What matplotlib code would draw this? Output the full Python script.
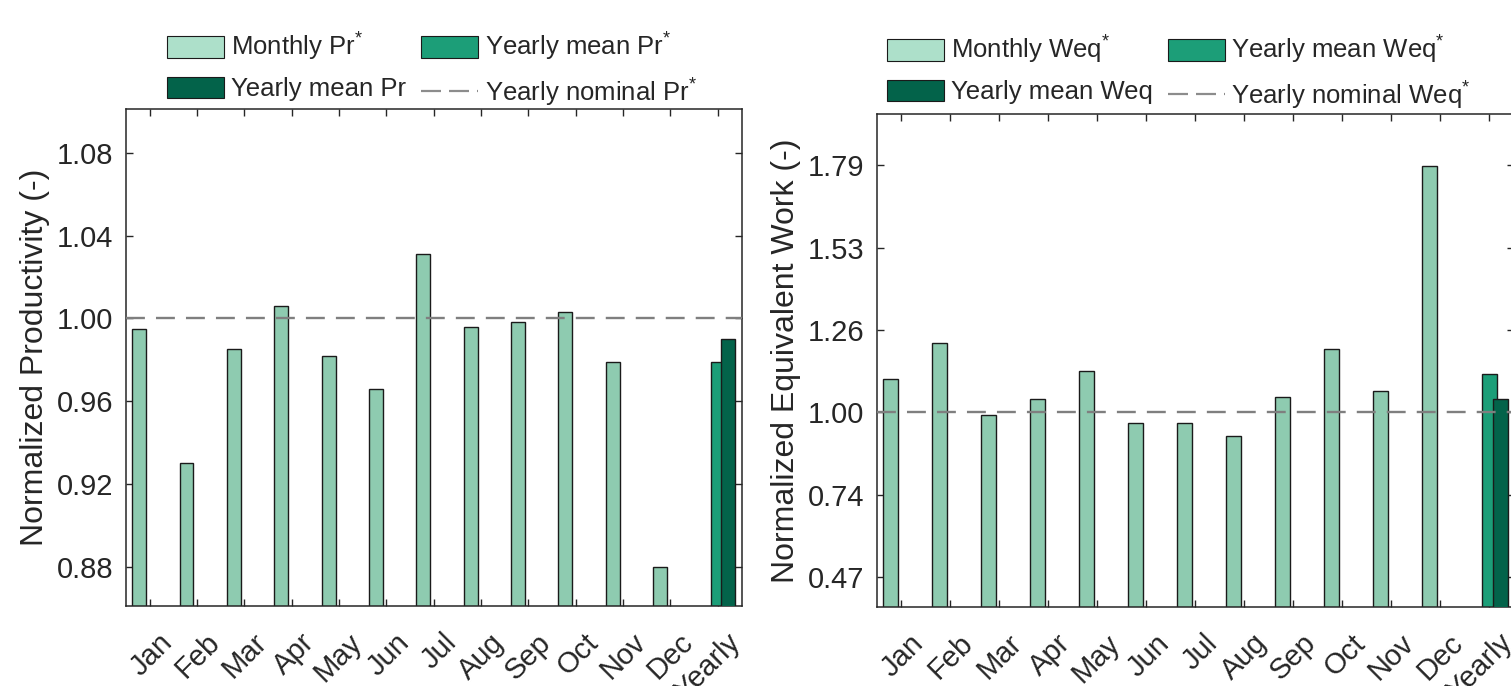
import numpy as np
import matplotlib
matplotlib.use("Agg")
import matplotlib.pyplot as plt
from matplotlib.patches import Patch
from matplotlib.lines import Line2D
from matplotlib.transforms import ScaledTranslation

# fonts: Arial-like look
plt.rcParams['font.family'] = ['Liberation Sans', 'DejaVu Sans']
plt.rcParams['mathtext.fontset'] = 'custom'
plt.rcParams['mathtext.rm'] = 'Liberation Sans'
plt.rcParams['mathtext.it'] = 'Liberation Sans:italic'
plt.rcParams['text.color'] = '#262626'
plt.rcParams['axes.labelcolor'] = '#262626'

# data
months = ['Jan', 'Feb', 'Mar', 'Apr', 'May', 'Jun', 'Jul', 'Aug', 'Sep', 'Oct', 'Nov', 'Dec']
xlabels = months + ['Yearly']

pr_monthly = [0.995, 0.930, 0.985, 1.006, 0.982, 0.966, 1.031, 0.996, 0.998, 1.003, 0.979, 0.880]
pr_yearly_mean_star = 0.979
pr_yearly_mean = 0.990
pr_nominal = 1.00

weq_monthly = [1.106, 1.221, 0.991, 1.042, 1.133, 0.965, 0.967, 0.923, 1.049, 1.202, 1.069, 1.790]
weq_yearly_mean_star = 1.122
weq_yearly_mean = 1.044
weq_nominal = 1.00

pr_ticks = [0.88, 0.92, 0.96, 1.00, 1.04, 1.08]
weq_ticks = [0.472, 0.736, 1.000, 1.264, 1.528, 1.792]

# colours
c_month = '#8ecbb0'
c_month_leg = '#ade0ca'
c_mean_star = '#1c9e78'
c_mean = '#03634a'
c_line = '#7f7f7f'

off = 0.2222
bw = 0.295

fig = plt.figure(figsize=(15.11, 6.86), dpi=100)
ax1 = fig.add_axes([126 / 1511, 80 / 686, 615.5 / 1511, 496.7 / 686])
ax2 = fig.add_axes([876.7 / 1511, 79.3 / 686, 637.3 / 1511, 492.7 / 686])


def draw(ax, monthly, mean_star, mean, nominal, ticks, ylim, ylabel):
    x = np.arange(1, len(monthly) + 1)
    xy = len(monthly) + 1
    ax.bar(x - off, monthly, bw, color=c_month, edgecolor='#1a1a1a', linewidth=1.0, zorder=2)
    ax.bar(xy, mean_star, bw, color=c_mean_star, edgecolor='#1a1a1a', linewidth=1.0, zorder=2)
    ax.bar(xy + off, mean, bw, color=c_mean, edgecolor='#1a1a1a', linewidth=1.0, zorder=3)
    ax.axhline(nominal, color=c_line, lw=1.7, dashes=(8, 4.7), zorder=4)
    ax.set_xlim(0.5, xy + 0.5)
    ax.set_ylim(*ylim)
    ax.set_xticks(np.arange(1, xy + 1))
    ax.set_xticklabels(xlabels, rotation=45, ha='right', rotation_mode='anchor')
    ax.set_yticks(ticks)
    ax.set_yticklabels(['%.2f' % t for t in ticks])
    ax.tick_params(direction='in', length=5, width=1.0, top=True, right=True,
                   labelsize=21, colors='#262626')
    ax.tick_params(axis='x', pad=16)
    ax.tick_params(axis='y', pad=9)
    # nudge rotated month labels to the right, as in the original
    shift = ScaledTranslation(6 / 72, 0, fig.dpi_scale_trans)
    for lab in ax.get_xticklabels():
        lab.set_transform(lab.get_transform() + shift)
    for s in ax.spines.values():
        s.set_linewidth(1.1)
        s.set_color('#262626')
    ax.set_ylabel(ylabel, fontsize=23, labelpad=5)


draw(ax1, pr_monthly, pr_yearly_mean_star, pr_yearly_mean, pr_nominal,
     pr_ticks, (0.861, 1.101), 'Normalized Productivity (-)')
draw(ax2, weq_monthly, weq_yearly_mean_star, weq_yearly_mean, weq_nominal,
     weq_ticks, (0.376, 1.957), 'Normalized Equivalent Work (-)')


def legend(ax, name, x0, y0):
    handles = [
        Patch(facecolor=c_month_leg, edgecolor='#1a1a1a', linewidth=0.8),
        Patch(facecolor=c_mean, edgecolor='#1a1a1a', linewidth=0.8),
        Patch(facecolor=c_mean_star, edgecolor='#1a1a1a', linewidth=0.8),
        Line2D([], [], color='#8c8c8c', lw=1.6, dashes=(9, 3.6)),
    ]
    labels = ['Monthly %s$^{*}$' % name, 'Yearly mean %s' % name,
              'Yearly mean %s$^{*}$' % name, 'Yearly nominal %s$^{*}$' % name]
    ax.legend(handles, labels, ncol=2, loc='upper left', frameon=False,
              bbox_to_anchor=(x0 / 1511, 1 - y0 / 686), bbox_transform=fig.transFigure,
              borderpad=0, borderaxespad=0, fontsize=18.5, handlelength=2.22,
              handleheight=0.93, handletextpad=0.27, columnspacing=0.57, labelspacing=0.52)


legend(ax1, 'Pr', 167.3, 31)
legend(ax2, 'Weq', 887, 34)

fig.savefig('out.png', dpi=100)
